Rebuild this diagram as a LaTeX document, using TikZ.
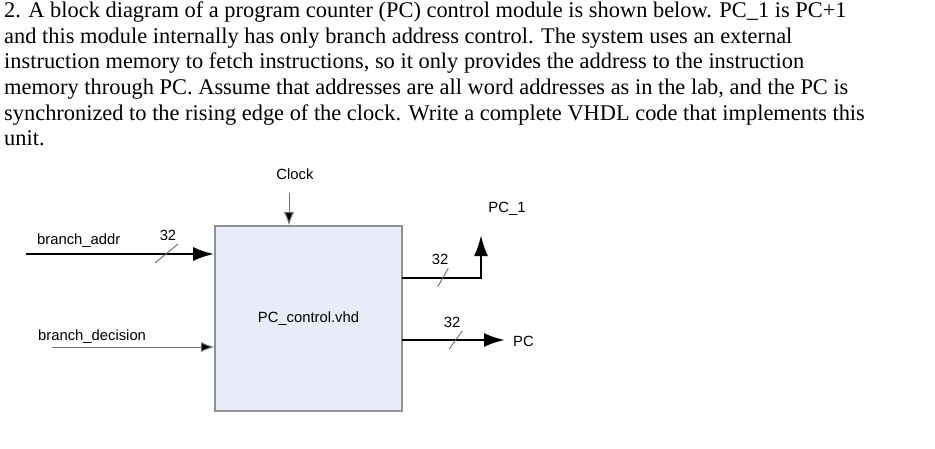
\documentclass[tikz,border=0pt]{standalone}
\usepackage{fontspec}
\setmainfont{Liberation Serif}
\setsansfont{Liberation Sans}
\usetikzlibrary{positioning,arrows.meta}
\definecolor{boxfill}{RGB}{232,236,248}
\definecolor{boxline}{RGB}{145,145,145}
\definecolor{wire}{RGB}{110,110,110}

\begin{document}
\begin{tikzpicture}[x=1pt,y=-1pt,font=\sffamily\fontsize{14.8}{17}\selectfont,
    bus/.style={line width=2.6pt,-{Latex[length=21pt,width=14pt]}},
    sig/.style={line width=1pt,draw=wire,-{Latex[length=13pt,width=10pt,fill=black]}},
    slash/.style={draw=wire,line width=0.9pt},
    lbl/.style={inner sep=0pt}]
    \useasboundingbox (0,0) rectangle (935,448);
    % question text
    \node[anchor=north west, inner sep=0pt, align=left, font=\rmfamily\fontsize{22.4}{25.7}\selectfont] (question) at (4,1.5)
        {2. A block diagram of a program counter (PC) control module is shown below. PC\_1 is PC+1\\
         and this module internally has only branch address control. The system uses an external\\
         instruction memory to fetch instructions, so it only provides the address to the instruction\\
         memory through PC. Assume that addresses are all word addresses as in the lab, and the PC is\\
         synchronized to the rising edge of the clock. Write a complete VHDL code that implements this\\
         unit.};
    % the block
    \node[draw=boxline, line width=1.6pt, fill=boxfill, minimum width=187pt, minimum height=185pt] (pcctl) at (308.5,318.5) {PC\_control.vhd};
    % inputs
    \node[lbl, anchor=west] (addrlbl) at (37,241) {branch\_addr};
    \node[lbl, anchor=west] (declbl) at (38,337) {branch\_decision};
    \node[lbl] (clklbl) at (295,174) {Clock};
    \coordinate (addrin) at (26,254);
    \coordinate (decin) at (52,347);
    \coordinate (clkin) at (289,193);
    \draw[bus] (addrin) -- (addrin -| pcctl.west);
    \draw[sig] (decin) -- (decin -| pcctl.west);
    \draw[sig] (clkin) -- (clkin |- pcctl.north);
    % outputs
    \node[lbl] (pc1lbl) at (507,209) {PC\_1};
    \node[lbl, anchor=west] (pclbl) at (513,341) {PC};
    \coordinate (pc1out) at (402,278);
    \coordinate (pc1turn) at (481,278);
    \coordinate (pc1end) at (481,235);
    \coordinate (pcout) at (402,340);
    \draw[bus] (pc1out) -- (pc1turn) -- (pc1end);
    \draw[bus] (pcout) -- ([xshift=-8pt]pclbl.west |- pcout);
    % bus widths
    \draw[slash] (155,263) -- (178,244);
    \draw[slash] (437.7,286.7) -- (448.3,268.3);
    \draw[slash] (449,349.3) -- (462.3,330.7);
    \node[lbl] (w1) at (168,235) {32};
    \node[lbl] (w2) at (440,259) {32};
    \node[lbl] (w3) at (452,322) {32};
\end{tikzpicture}
\end{document}
